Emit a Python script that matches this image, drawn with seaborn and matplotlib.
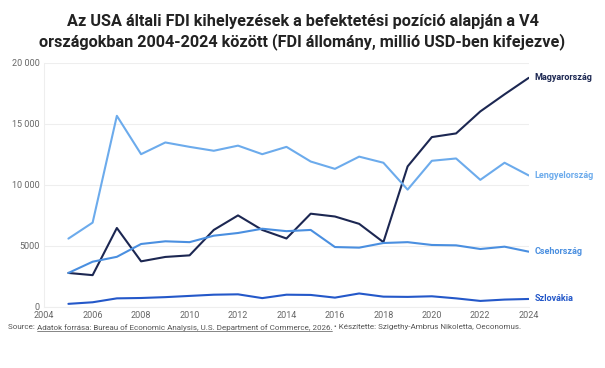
import numpy as np
import pandas as pd
import seaborn as sns
import matplotlib.pyplot as plt
from matplotlib.lines import Line2D

# adatok (millió USD)
years = list(range(2005, 2025))
magyarorszag = [2780, 2600, 6460, 3730, 4090, 4220, 6300, 7490, 6300, 5600,
                7630, 7400, 6800, 5300, 11500, 13900, 14200, 16000, 17400, 18750]
lengyelorszag = [5590, 6900, 15640, 12500, 13460, 13100, 12780, 13200, 12500, 13100,
                 11900, 11300, 12300, 11800, 9600, 11960, 12150, 10400, 11800, 10760]
csehorszag = [2780, 3700, 4100, 5150, 5370, 5300, 5830, 6050, 6400, 6200,
              6300, 4900, 4850, 5230, 5300, 5070, 5040, 4740, 4930, 4520]
szlovakia = [250, 380, 700, 730, 800, 900, 1000, 1030, 720, 1000,
             980, 760, 1100, 840, 820, 870, 700, 490, 600, 650]

countries = ['Magyarország', 'Lengyelország', 'Csehország', 'Szlovákia']
colors = ['#1c2752', '#6cabec', '#4a8fe0', '#2458c9']
xticks = list(range(2004, 2025, 2))
yticks = [0, 5000, 10000, 15000, 20000]
ytick_labels = ['0', '5000', '10 000', '15 000', '20 000']

df = pd.DataFrame({'year': years, 'Magyarország': magyarorszag, 'Lengyelország': lengyelorszag,
                   'Csehország': csehorszag, 'Szlovákia': szlovakia})
long_df = df.melt(id_vars='year', var_name='country', value_name='value')

sns.set_theme(style='white')
plt.rcParams['font.family'] = ['Roboto', 'DejaVu Sans']

fig = plt.figure(figsize=(6.05, 3.68), dpi=100)
ax = fig.add_axes([0.073, 0.166, 0.801, 0.664])

sns.lineplot(data=long_df, x='year', y='value', hue='country', hue_order=countries,
             palette=colors, linewidth=1.5, legend=False, ax=ax)

# címkék a vonalak végén
for name, col in zip(countries, colors):
    last = df[name].iloc[-1]
    ax.annotate(name, xy=(years[-1], last), xytext=(4, 0), textcoords='offset points',
                va='center', ha='left', fontsize=6.5, fontweight='bold', color=col,
                annotation_clip=False)

ax.set_xlim(2004, 2024)
ax.set_ylim(0, 20000)
ax.set_xticks(xticks)
ax.set_yticks(yticks)
ax.set_yticklabels(ytick_labels)
ax.tick_params(axis='both', labelsize=6.5, labelcolor='#666666', length=0, pad=3)
ax.set_xlabel('')
ax.set_ylabel('')
ax.yaxis.grid(True, color='#eeeeee', linewidth=0.8)
for s in ['top', 'right']:
    ax.spines[s].set_visible(False)
ax.spines['left'].set_color('#eeeeee')
ax.spines['bottom'].set_color('#eeeeee')
ax.spines['left'].set_linewidth(0.8)
ax.spines['bottom'].set_linewidth(0.8)

fig.text(0.5, 0.962, 'Az USA általi FDI kihelyezések a befektetési pozíció alapján a V4\n'
         'országokban 2004-2024 között (FDI állomány, millió USD-ben kifejezve)',
         ha='center', va='top', fontsize=11.7, fontweight='bold', color='#222222',
         linespacing=1.28)

# forrás sor, aláhúzott résszel
src_y = 0.111
fs = 5.75
t1 = fig.text(0.013, src_y, 'Source: ', fontsize=fs, color='#555555', va='center')
fig.canvas.draw()
r = fig.canvas.get_renderer()
bb1 = t1.get_window_extent(r)
x2 = bb1.x1 / fig.bbox.width
t2 = fig.text(x2, src_y, 'Adatok forrása: Bureau of Economic Analysis, U.S. Department of Commerce, 2026.',
              fontsize=fs, color='#555555', va='center')
bb2 = t2.get_window_extent(r)
x3 = bb2.x1 / fig.bbox.width
fig.text(x3, src_y, ' • Készítette: Szigethy-Ambrus Nikoletta, Oeconomus.', fontsize=fs,
         color='#555555', va='center')
uy = bb2.y0 / fig.bbox.height
fig.add_artist(Line2D([x2, x3], [uy, uy], transform=fig.transFigure, color='#555555', linewidth=0.5))

fig.savefig('out.png', dpi=100)
